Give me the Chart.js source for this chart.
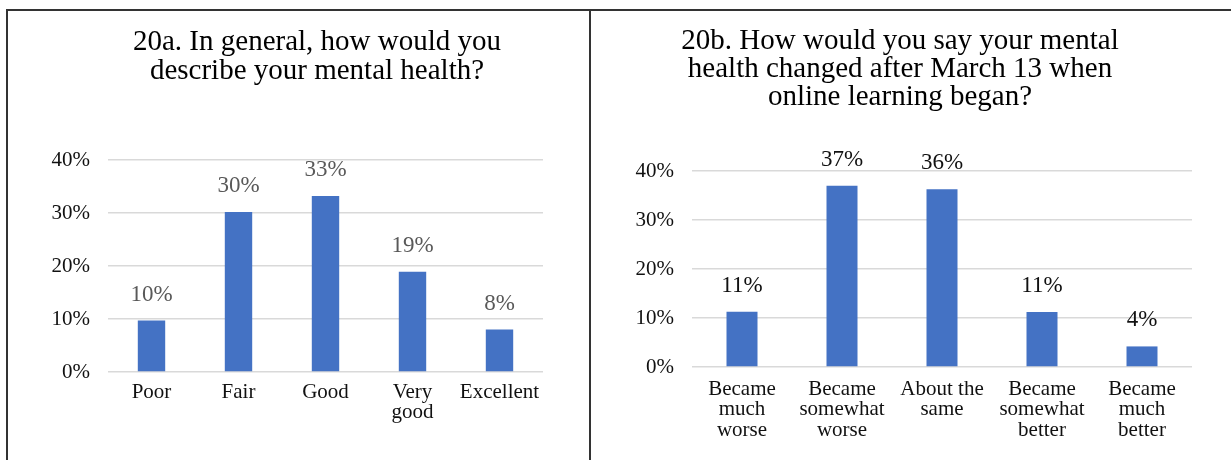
<!DOCTYPE html>
<html>
<head>
<meta charset="utf-8">
<script src="https://cdn.jsdelivr.net/npm/chart.js@4.4.1/dist/chart.umd.min.js"></script>
<style>
  html, body { margin: 0; padding: 0; background: #fff; }
  body { width: 1231px; height: 460px; position: relative; overflow: hidden; }
  .frame { position: absolute; left: 6px; top: 9px; width: 1240px; height: 470px;
           border-top: 2px solid #333; border-left: 2px solid #333; box-sizing: border-box; }
  .divider { position: absolute; left: 589px; top: 9px; width: 2px; height: 460px; background: #333; }
  .box { position: absolute; }
  #boxA { left: 8px; top: 11px; width: 581px; height: 449px; }
  #boxB { left: 592px; top: 11px; width: 639px; height: 449px; }
</style>
</head>
<body>
<div class="frame"></div>
<div class="divider"></div>
<div class="box" id="boxA"><canvas id="chartA"></canvas></div>
<div class="box" id="boxB"><canvas id="chartB"></canvas></div>
<script>
// ---- Data ----
const titleA = ["20a. In general, how would you", "describe your mental health?"];
const categoriesA = ["Poor", "Fair", "Good", ["Very", "good"], "Excellent"];
const valuesA = [9.7, 30.2, 33.2, 18.9, 8.0];
const labelsA = ["10%", "30%", "33%", "19%", "8%"];

const titleB = ["20b. How would you say your mental", "health changed after March 13 when", "online learning began?"];
const categoriesB = [["Became", "much", "worse"], ["Became", "somewhat", "worse"], ["About the", "same"], ["Became", "somewhat", "better"], ["Became", "much", "better"]];
const valuesB = [11.3, 37.0, 36.3, 11.2, 4.2];
const labelsB = ["11%", "37%", "36%", "11%", "4%"];

const yTicks = [0, 10, 20, 30, 40];

const SERIF = "'Liberation Serif', 'Times New Roman', serif";
const BAR = "#4472C4";

// Panel title (multi-line, centred at a given x)
const panelTitlePlugin = {
  id: 'panelTitle',
  afterDraw(chart, args, opts) {
    const ctx = chart.ctx;
    ctx.save();
    ctx.font = opts.size + "px " + SERIF;
    ctx.fillStyle = '#000';
    ctx.textAlign = 'center';
    ctx.textBaseline = 'alphabetic';
    opts.lines.forEach((line, i) => {
      ctx.fillText(line, opts.x, opts.y0 + i * opts.lineGap);
    });
    ctx.restore();
  }
};

// Value labels above the bars
const dataLabelPlugin = {
  id: 'dataLabels',
  afterDatasetsDraw(chart, args, opts) {
    const ctx = chart.ctx;
    const meta = chart.getDatasetMeta(0);
    ctx.save();
    ctx.font = opts.size + "px " + SERIF;
    ctx.fillStyle = opts.color;
    ctx.textAlign = 'center';
    ctx.textBaseline = 'middle';
    meta.data.forEach((bar, i) => {
      ctx.fillText(opts.labels[i], bar.x, bar.y - opts.offset);
    });
    ctx.restore();
  }
};

function makeChart(id, cfg) {
  return new Chart(document.getElementById(id), {
    type: 'bar',
    data: {
      labels: cfg.categories,
      datasets: [{
        data: cfg.values,
        backgroundColor: BAR,
        borderWidth: 0,
        categoryPercentage: 1.0,
        barPercentage: cfg.barPct
      }]
    },
    plugins: [panelTitlePlugin, dataLabelPlugin],
    options: {
      responsive: true,
      maintainAspectRatio: false,
      animation: false,
      events: [],
      layout: { padding: { left: 0, right: cfg.padR, top: cfg.padTop, bottom: 0 } },
      plugins: {
        legend: { display: false },
        tooltip: { enabled: false },
        title: { display: false },
        panelTitle: { lines: cfg.title, x: cfg.titleX, y0: cfg.titleY0, lineGap: cfg.titleGap, size: 29 },
        dataLabels: { labels: cfg.labels, color: cfg.labelColor, size: 23, offset: 26 }
      },
      scales: {
        x: {
          grid: { display: false, drawTicks: false },
          border: { display: false },
          ticks: {
            color: '#111',
            font: { family: SERIF, size: 21, lineHeight: 0.98 },
            padding: cfg.xPad,
            maxRotation: 0,
            autoSkip: false
          },
          afterFit: (s) => { s.height = cfg.xHeight; }
        },
        y: {
          min: 0,
          max: 40,
          afterBuildTicks: (s) => { s.ticks = yTicks.map(v => ({ value: v })); },
          grid: { color: '#d9d9d9', lineWidth: 1.5, drawTicks: false },
          border: { display: false },
          ticks: {
            color: '#111',
            font: { family: SERIF, size: 21 },
            padding: 18,
            callback: (v) => v + '%'
          },
          afterFit: (s) => { s.width = 100; }
        }
      }
    }
  });
}

makeChart('chartA', {
  title: titleA, categories: categoriesA, values: valuesA, labels: labelsA,
  labelColor: '#595959', barPct: 0.315,
  padR: 46, padTop: 149, titleX: 309, titleY0: 39, titleGap: 29,
  xHeight: 88, xPad: 10
});

makeChart('chartB', {
  title: titleB, categories: categoriesB, values: valuesB, labels: labelsB,
  labelColor: '#111', barPct: 0.31,
  padR: 39, padTop: 160, titleX: 308, titleY0: 38, titleGap: 28,
  xHeight: 93, xPad: 12
});
</script>
</body>
</html>
